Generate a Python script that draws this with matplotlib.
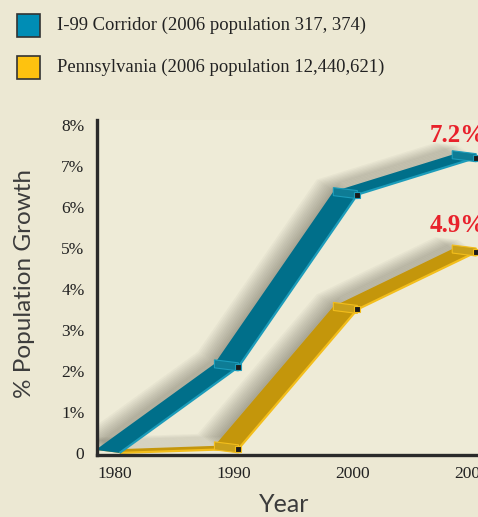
import numpy as np
import matplotlib
matplotlib.use('Agg')
import matplotlib.pyplot as plt
from matplotlib.patches import Polygon, Rectangle
from matplotlib.transforms import ScaledTranslation

# data
years = ['1980', '1990', '2000', '2006']
i99 = [0.0, 2.1, 6.3, 7.2]
penn = [0.0, 0.1, 3.5, 4.9]
y_ticks = [0, 1, 2, 3, 4, 5, 6, 7, 8]
y_labels = ['0', '1%', '2%', '3%', '4%', '5%', '6%', '7%', '8%']
series_names = ['I-99 Corridor (2006 population 317, 374)',
                'Pennsylvania (2006 population 12,440,621)']
end_labels = ['7.2%', '4.9%']

bg = '#ECE8D3'
W, H = 478, 517

fig = plt.figure(figsize=(W / 100, H / 100), dpi=100, facecolor=bg)
ax = fig.add_axes([97 / W, 62 / H, 403 / W, 335 / H])
ax.set_facecolor('#EEEBD7')
ax.set_xlim(-0.19, 3.2)
ax.set_ylim(-0.05, 8.12)

x = np.arange(len(years))

# pixels per data unit, to give the ribbons a fixed depth on screen
sx = ax.transData.transform((1, 0))[0] - ax.transData.transform((0, 0))[0]
sy = ax.transData.transform((0, 1))[1] - ax.transData.transform((0, 0))[1]
depth = np.array([-24 / sx, 3 / sy])


def ribbon(vals, face, edge, cap):
    pts = np.column_stack([x, vals])
    segs = list(zip(pts[:-1], pts[1:]))
    # soft shadow to the upper left
    for k in range(1, 13):
        sh = np.array([-1.4 * k / sx, 1.0 * k / sy])
        for a, b in segs:
            quad = [a + sh, b + sh, b + depth + sh, a + depth + sh]
            ax.add_patch(Polygon(quad, closed=True, fc='#3b382c', ec='none',
                                 alpha=0.035, zorder=1))
    for a, b in segs:
        quad = [a, b, b + depth, a + depth]
        ax.add_patch(Polygon(quad, closed=True, fc=face, ec='none', zorder=3))
    ax.plot(x, vals, color=edge, lw=1.6, zorder=4, solid_capstyle='butt')
    # little caps at the joints
    th = np.array([0, 4 / sy])
    for p in pts[1:]:
        quad = [p - th, p + th, p + depth + th, p + depth - th]
        ax.add_patch(Polygon(quad, closed=True, fc=cap, ec=edge, lw=0.8,
                             zorder=5))
    ax.plot(x[1:], vals[1:], 's', ms=5, mfc='#1b1b1b', mec=edge, mew=0.8,
            zorder=6)


ribbon(penn, '#C4960B', '#F3BE1C', '#C9A01A')
ribbon(i99, '#006F8A', '#1C9CBA', '#0E7C95')

# value labels at the ends
ax.annotate(end_labels[0], xy=(x[-1], i99[-1]), xytext=(-47, 16),
            textcoords='offset pixels', ha='left', va='baseline',
            color='#E8212B', fontsize=18, fontweight='bold',
            family='Liberation Serif', annotation_clip=False, zorder=7)
ax.annotate(end_labels[1], xy=(x[-1], penn[-1]), xytext=(-47, 20),
            textcoords='offset pixels', ha='left', va='baseline',
            color='#E8212B', fontsize=18, fontweight='bold',
            family='Liberation Serif', annotation_clip=False, zorder=7)

# axes
for s in ['top', 'right']:
    ax.spines[s].set_visible(False)
for s in ['left', 'bottom']:
    ax.spines[s].set_linewidth(2.4)
    ax.spines[s].set_color('#2a2a2a')
    ax.spines[s].set_zorder(8)

ax.set_xticks(x, years)
ax.set_yticks(y_ticks, y_labels)
ax.tick_params(axis='both', length=0, labelsize=12.5, colors='#222222')
ax.tick_params(axis='x', pad=8)
ax.tick_params(axis='y', pad=9)
shift = ScaledTranslation(-5 / 100, 0, fig.dpi_scale_trans)
for lab in ax.get_xticklabels():
    lab.set_family('Liberation Serif')
    lab.set_transform(lab.get_transform() + shift)
for lab in ax.get_yticklabels():
    lab.set_family('Liberation Serif')

fig.text(25 / W, 1 - 283 / H, '% Population Growth', rotation=90,
         ha='center', va='center', fontsize=17.5, family='Lato',
         color='#3c3c3c')
fig.text(284 / W, 1 - 505 / H, 'Year', ha='center', va='center',
         fontsize=18, family='Lato', color='#3c3c3c')

# legend
legend_colors = ['#008DB5', '#FEC20F']
for i, (name, col) in enumerate(zip(series_names, legend_colors)):
    yc = 25 + 42 * i
    fig.add_artist(Rectangle((17 / W, 1 - (yc + 11.5) / H), 23 / W, 23 / H,
                             transform=fig.transFigure, fc=col, ec='#333333',
                             lw=1.2))
    fig.text(57 / W, 1 - yc / H, name, ha='left', va='center',
             fontsize=13.4, family='Liberation Serif', color='#222222')

fig.savefig('out.png', dpi=100, facecolor=bg)
